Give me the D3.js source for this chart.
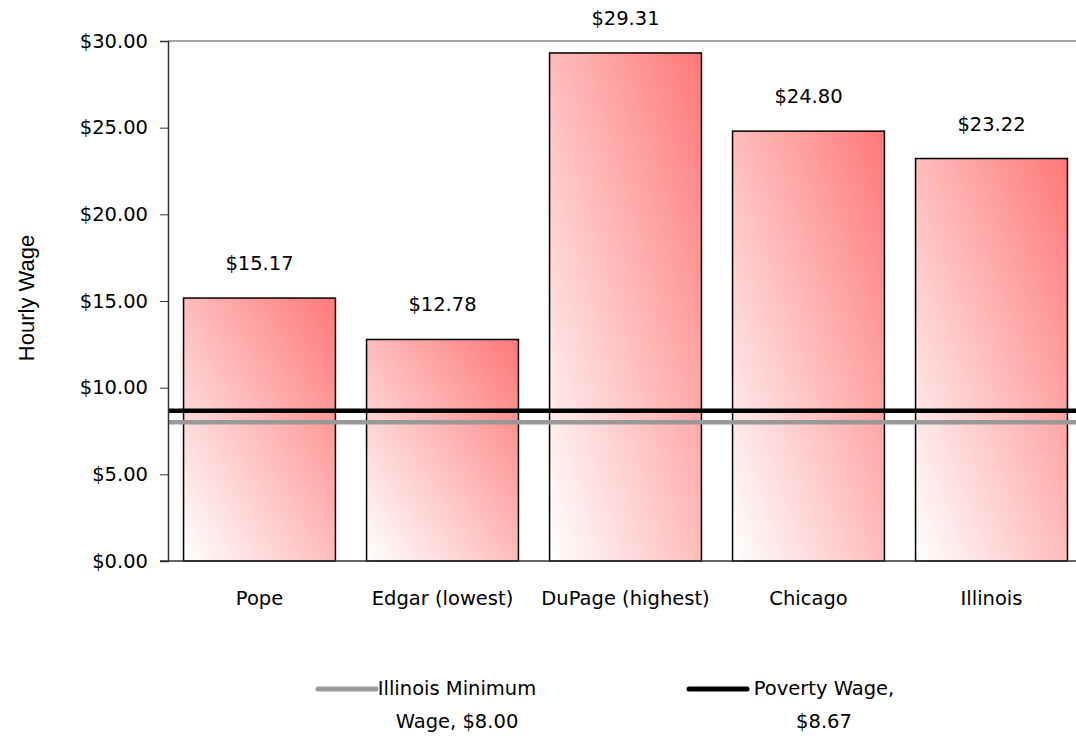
<!DOCTYPE html>
<html>
<head>
<meta charset="utf-8">
<script src="https://cdn.jsdelivr.net/npm/d3@7"></script>
<style>
  body { margin: 0; background: #fff; }
  text { font-family: "DejaVu Sans", sans-serif; }
</style>
</head>
<body>
<div id="chart"></div>
<script>
// Hardcoded data
const categories = ["Pope", "Edgar (lowest)", "DuPage (highest)", "Chicago", "Illinois"];
const wages = [15.17, 12.78, 29.31, 24.80, 23.22];
const yTicks = [0, 5, 10, 15, 20, 25, 30];
const minWage = 8.00;
const povertyWage = 8.67;
const legendLabels = [["Illinois Minimum", "Wage, $8.00"], ["Poverty Wage,", "$8.67"]];

const width = 1076, height = 738;
const plotLeft = 168, plotRight = 1083, plotTop = 41, plotBottom = 561;
const fs = 19.5;

const svg = d3.select("#chart").append("svg")
    .attr("width", width)
    .attr("height", height);

const grad = svg.append("defs").append("linearGradient")
    .attr("id", "barGrad")
    .attr("x1", 0).attr("y1", 1).attr("x2", 1).attr("y2", 0);
grad.append("stop").attr("offset", "0%").attr("stop-color", "#ffffff");
grad.append("stop").attr("offset", "100%").attr("stop-color", "#ff7878");

const x = d3.scaleBand().domain(categories).range([plotLeft, plotRight])
    .paddingInner(0.17).paddingOuter(0.085);
const y = d3.scaleLinear().domain([0, 30]).range([plotBottom, plotTop]);

// top border line
svg.append("line")
    .attr("x1", plotLeft).attr("x2", width)
    .attr("y1", y(30)).attr("y2", y(30))
    .attr("stroke", "#888").attr("stroke-width", 1.5);

// bars
svg.selectAll("rect.bar")
    .data(wages)
    .enter().append("rect")
    .attr("class", "bar")
    .attr("x", (d, i) => x(categories[i]))
    .attr("y", d => y(d))
    .attr("width", x.bandwidth())
    .attr("height", d => y(0) - y(d))
    .attr("fill", "url(#barGrad)")
    .attr("stroke", "#000")
    .attr("stroke-width", 1.5);

// value labels
svg.selectAll("text.val")
    .data(wages)
    .enter().append("text")
    .attr("class", "val")
    .attr("x", (d, i) => x(categories[i]) + x.bandwidth() / 2)
    .attr("y", d => y(d) - 28)
    .attr("text-anchor", "middle")
    .attr("font-size", fs)
    .text(d => "$" + d.toFixed(2));

// reference lines
svg.append("line")
    .attr("x1", plotLeft).attr("x2", width)
    .attr("y1", y(minWage)).attr("y2", y(minWage))
    .attr("stroke", "#999").attr("stroke-width", 4.5);
svg.append("line")
    .attr("x1", plotLeft).attr("x2", width)
    .attr("y1", y(povertyWage)).attr("y2", y(povertyWage))
    .attr("stroke", "#000").attr("stroke-width", 4.5);

// y axis
const yAxis = svg.append("g")
    .attr("transform", `translate(${plotLeft},0)`)
    .call(d3.axisLeft(y).tickValues(yTicks).tickSize(8).tickPadding(12)
        .tickFormat(d => "$" + d3.format(".2f")(d)));
yAxis.select(".domain").attr("stroke", "#333").attr("stroke-width", 1.5);
yAxis.selectAll(".tick line").attr("stroke", "#333");
yAxis.selectAll("text").attr("font-size", fs).attr("fill", "#000")
    .style("font-family", "DejaVu Sans");

// x axis
const xAxis = svg.append("g")
    .attr("transform", `translate(0,${plotBottom})`)
    .call(d3.axisBottom(x).tickSize(0).tickPadding(30));
xAxis.select(".domain").remove();
xAxis.append("line")
    .attr("x1", plotLeft - 8).attr("x2", width)
    .attr("stroke", "#333").attr("stroke-width", 1.5);
xAxis.selectAll("text").attr("font-size", fs).attr("fill", "#000")
    .style("font-family", "DejaVu Sans");

// y title
svg.append("text")
    .attr("transform", `translate(34,298) rotate(-90)`)
    .attr("text-anchor", "middle")
    .attr("font-size", 22)
    .style("font-family", "Liberation Sans, Arial, sans-serif")
    .text("Hourly Wage");

// legend
const legend = [
    {x1: 318, x2: 376, color: "#999", cx: 457, lines: legendLabels[0]},
    {x1: 689, x2: 747, color: "#000", cx: 824, lines: legendLabels[1]}
];
legend.forEach(l => {
    svg.append("line")
        .attr("x1", l.x1).attr("x2", l.x2)
        .attr("y1", 689).attr("y2", 689)
        .attr("stroke", l.color).attr("stroke-width", 5)
        .attr("stroke-linecap", "round");
    l.lines.forEach((t, j) => {
        svg.append("text")
            .attr("x", l.cx).attr("y", 695 + j * 33)
            .attr("text-anchor", "middle")
            .attr("font-size", fs)
            .text(t);
    });
});
</script>
</body>
</html>
